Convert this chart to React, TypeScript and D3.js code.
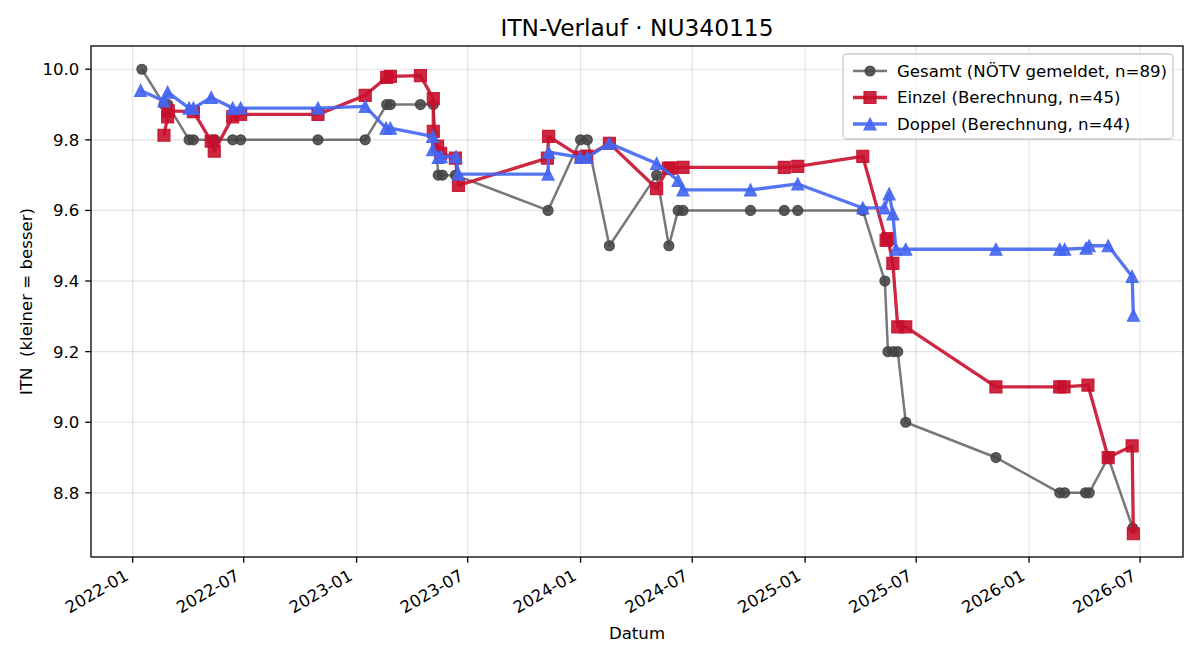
import * as d3 from "d3";
import { useEffect, useRef } from "react";

// Gesamt-ITN laut NÖTV-Meldung
const gesamtDates = [
  "2022-01-16", "2022-02-21", "2022-02-27", "2022-04-03", "2022-04-10", "2022-05-10",
  "2022-05-15", "2022-06-13", "2022-06-26", "2022-10-30", "2023-01-15", "2023-02-19",
  "2023-02-25", "2023-04-15", "2023-05-06", "2023-05-14", "2023-05-21", "2023-06-11",
  "2023-11-09", "2024-01-01", "2024-01-12", "2024-02-17", "2024-05-04", "2024-05-24",
  "2024-06-08", "2024-06-16", "2024-10-04", "2024-11-28", "2024-12-20", "2025-04-05",
  "2025-05-11", "2025-05-16", "2025-05-25", "2025-06-01", "2025-06-14", "2025-11-08",
  "2026-02-20", "2026-02-28", "2026-04-03", "2026-04-09", "2026-05-10", "2026-06-19",
];
const gesamtValues = [
  10.0, 9.9, 9.9, 9.8, 9.8, 9.8,
  9.8, 9.8, 9.8, 9.8, 9.8, 9.9,
  9.9, 9.9, 9.9, 9.7, 9.7, 9.7,
  9.6, 9.8, 9.8, 9.5, 9.7, 9.5,
  9.6, 9.6, 9.6, 9.6, 9.6, 9.6,
  9.4, 9.2, 9.2, 9.2, 9.0, 8.9,
  8.8, 8.8, 8.8, 8.8, 8.9, 8.7,
];

// Einzel (berechnet)
const einzelDates = [
  "2022-02-21", "2022-02-27", "2022-02-28", "2022-04-10", "2022-05-09", "2022-05-14",
  "2022-06-13", "2022-06-26", "2022-10-30", "2023-01-15", "2023-02-19", "2023-02-25",
  "2023-04-15", "2023-05-06", "2023-05-06", "2023-05-13", "2023-05-18", "2023-06-11",
  "2023-06-16", "2023-11-08", "2023-11-10", "2024-01-02", "2024-01-11", "2024-02-17",
  "2024-05-04", "2024-05-23", "2024-05-27", "2024-06-16", "2024-11-28", "2024-12-20",
  "2025-04-05", "2025-05-13", "2025-05-16", "2025-05-24", "2025-06-01", "2025-06-14",
  "2025-11-08", "2026-02-20", "2026-02-27", "2026-04-07", "2026-05-10", "2026-06-18",
  "2026-06-20",
];
const einzelValues = [
  9.813, 9.865, 9.882, 9.88, 9.796, 9.768,
  9.865, 9.872, 9.872, 9.926, 9.977, 9.98,
  9.982, 9.917, 9.824, 9.782, 9.762, 9.748,
  9.671, 9.748, 9.81, 9.751, 9.754, 9.79,
  9.662, 9.72, 9.72, 9.722, 9.722, 9.725,
  9.753, 9.515, 9.52, 9.45, 9.27, 9.27,
  9.1, 9.1, 9.1, 9.105, 8.9, 8.933,
  8.684,
];

// Doppel (berechnet)
const doppelDates = [
  "2022-01-14", "2022-02-21", "2022-02-27", "2022-04-03", "2022-04-10", "2022-05-09",
  "2022-06-13", "2022-06-26", "2022-10-30", "2023-01-15", "2023-02-18", "2023-02-25",
  "2023-05-05", "2023-05-05", "2023-05-14", "2023-05-19", "2023-06-12", "2023-06-16",
  "2023-11-09", "2023-11-10", "2024-01-01", "2024-01-12", "2024-02-17", "2024-05-04",
  "2024-06-08", "2024-06-16", "2024-10-04", "2024-12-20", "2025-04-05", "2025-05-10",
  "2025-05-18", "2025-05-24", "2025-05-29", "2025-06-14", "2025-11-08", "2026-02-20",
  "2026-02-28", "2026-04-04", "2026-04-09", "2026-05-10", "2026-06-18", "2026-06-20",
];
const doppelValues = [
  9.94, 9.91, 9.935, 9.89, 9.89, 9.92,
  9.89, 9.89, 9.89, 9.895, 9.833, 9.833,
  9.81, 9.772, 9.75, 9.752, 9.752, 9.703,
  9.703, 9.765, 9.75, 9.75, 9.79, 9.733,
  9.685, 9.658, 9.658, 9.675, 9.607, 9.607,
  9.647, 9.59, 9.49, 9.49, 9.49, 9.49,
  9.49, 9.493, 9.5, 9.5, 9.413, 9.303,
];

const yTicks = [8.8, 9.0, 9.2, 9.4, 9.6, 9.8, 10.0];
const xTicks = [
  "2022-01", "2022-07", "2023-01", "2023-07", "2024-01",
  "2024-07", "2025-01", "2025-07", "2026-01", "2026-07",
];
const legendLabels = [
  "Gesamt (NÖTV gemeldet, n=89)",
  "Einzel (Berechnung, n=45)",
  "Doppel (Berechnung, n=44)",
];

const parseDate = d3.timeParse("%Y-%m-%d");
const parseMonth = d3.timeParse("%Y-%m");

const WIDTH = 1200;
const HEIGHT = 660;
const FONT = "'DejaVu Sans', sans-serif";

const ChartDraw = () => {
  const chartRef = useRef(null);

  useEffect(() => {
    const svg = d3.select(chartRef.current);
    svg.selectAll("*").remove();

    const margin = { top: 46, right: 17, bottom: 103, left: 91 };
    const boundsWidth = WIDTH - margin.left - margin.right;
    const boundsHeight = HEIGHT - margin.top - margin.bottom;

    const series = [
      {
        key: "gesamt",
        dates: gesamtDates,
        values: gesamtValues,
        color: "#444444",
        lineOpacity: 0.72,
        markerOpacity: 0.88,
        lineWidth: 2.5,
        marker: "circle",
        size: 10,
      },
      {
        key: "einzel",
        dates: einzelDates,
        values: einzelValues,
        color: "#c8102e",
        lineOpacity: 0.9,
        markerOpacity: 0.9,
        lineWidth: 3.3,
        marker: "square",
        size: 12,
      },
      {
        key: "doppel",
        dates: doppelDates,
        values: doppelValues,
        color: "#4466f2",
        lineOpacity: 0.9,
        markerOpacity: 0.9,
        lineWidth: 3.3,
        marker: "triangle",
        size: 12,
      },
    ].map((s) => ({
      ...s,
      points: s.dates.map((d, i) => ({ date: parseDate(d), value: s.values[i] })),
    }));

    const allPoints = series.flatMap((s) => s.points);
    const [minDate, maxDate] = d3.extent(allPoints, (d) => d.date.getTime());
    const [minValue, maxValue] = d3.extent(allPoints, (d) => d.value);
    const padX = (maxDate - minDate) * 0.05;
    const padY = (maxValue - minValue) * 0.05;

    const scaleX = d3
      .scaleTime()
      .domain([new Date(minDate - padX), new Date(maxDate + padX)])
      .range([0, boundsWidth]);

    const scaleY = d3
      .scaleLinear()
      .domain([minValue - padY, maxValue + padY])
      .range([boundsHeight, 0]);

    const bounds = svg
      .append("g")
      .attr("transform", `translate(${margin.left}, ${margin.top})`);

    // Gitter
    const grid = bounds.append("g");
    xTicks.forEach((t) => {
      const x = scaleX(parseMonth(t));
      grid
        .append("line")
        .attr("x1", x).attr("x2", x)
        .attr("y1", 0).attr("y2", boundsHeight)
        .attr("stroke", "#b0b0b0")
        .attr("stroke-opacity", 0.35)
        .attr("stroke-width", 1.2);
    });
    yTicks.forEach((t) => {
      const y = scaleY(t);
      grid
        .append("line")
        .attr("x1", 0).attr("x2", boundsWidth)
        .attr("y1", y).attr("y2", y)
        .attr("stroke", "#b0b0b0")
        .attr("stroke-opacity", 0.35)
        .attr("stroke-width", 1.2);
    });

    const markerPath = (type, size) => {
      const h = size / 2;
      if (type === "square") return `M${-h},${-h}H${h}V${h}H${-h}Z`;
      if (type === "triangle") return `M0,${-h}L${h},${h}L${-h},${h}Z`;
      return d3.symbol(d3.symbolCircle, Math.PI * h * h)();
    };

    const line = d3
      .line()
      .x((d) => scaleX(d.date))
      .y((d) => scaleY(d.value));

    series.forEach((s) => {
      const g = bounds.append("g").attr("class", s.key);
      g.append("path")
        .datum(s.points)
        .attr("d", line)
        .attr("fill", "none")
        .attr("stroke", s.color)
        .attr("stroke-opacity", s.lineOpacity)
        .attr("stroke-width", s.lineWidth)
        .attr("stroke-linejoin", "round");

      g.selectAll("path.marker")
        .data(s.points)
        .enter()
        .append("path")
        .attr("class", "marker")
        .attr("d", markerPath(s.marker, s.size))
        .attr("transform", (d) => `translate(${scaleX(d.date)}, ${scaleY(d.value)})`)
        .attr("fill", s.color)
        .attr("fill-opacity", s.markerOpacity)
        .attr("stroke", s.color)
        .attr("stroke-opacity", s.markerOpacity)
        .attr("stroke-width", 1.2);
    });

    // Rahmen
    bounds
      .append("rect")
      .attr("width", boundsWidth)
      .attr("height", boundsHeight)
      .attr("fill", "none")
      .attr("stroke", "#000")
      .attr("stroke-width", 1.3);

    // y-Achse
    const yAxis = bounds.append("g");
    yTicks.forEach((t) => {
      const y = scaleY(t);
      yAxis.append("line")
        .attr("x1", -5.8).attr("x2", 0)
        .attr("y1", y).attr("y2", y)
        .attr("stroke", "#000").attr("stroke-width", 1.3);
      yAxis.append("text")
        .attr("x", -11.6)
        .attr("y", y)
        .attr("dy", "0.36em")
        .attr("text-anchor", "end")
        .style("font-family", FONT)
        .style("font-size", "16.6px")
        .text(d3.format(".1f")(t));
    });

    // x-Achse
    const xAxis = bounds.append("g").attr("transform", `translate(0, ${boundsHeight})`);
    xTicks.forEach((t) => {
      const x = scaleX(parseMonth(t));
      xAxis.append("line")
        .attr("x1", x).attr("x2", x)
        .attr("y1", 0).attr("y2", 5.8)
        .attr("stroke", "#000").attr("stroke-width", 1.3);
      xAxis.append("text")
        .attr("transform", `translate(${x - 3}, 22) rotate(-30)`)
        .attr("text-anchor", "end")
        .style("font-family", FONT)
        .style("font-size", "16.6px")
        .text(t);
    });

    // Beschriftungen
    svg.append("text")
      .attr("x", margin.left + boundsWidth / 2)
      .attr("y", 36)
      .attr("text-anchor", "middle")
      .style("font-family", FONT)
      .style("font-size", "23.3px")
      .text("ITN-Verlauf · NU340115");

    svg.append("text")
      .attr("x", margin.left + boundsWidth / 2)
      .attr("y", 639)
      .attr("text-anchor", "middle")
      .style("font-family", FONT)
      .style("font-size", "16.6px")
      .text("Datum");

    svg.append("text")
      .attr("transform", `translate(32, ${margin.top + boundsHeight / 2}) rotate(-90)`)
      .attr("text-anchor", "middle")
      .style("font-family", FONT)
      .style("font-size", "16.6px")
      .style("white-space", "pre")
      .text("ITN  (kleiner = besser)");

    // Legende
    const legend = svg.append("g").attr("transform", "translate(843, 54)");
    legend.append("rect")
      .attr("width", 330)
      .attr("height", 85)
      .attr("rx", 4)
      .attr("fill", "#fff")
      .attr("fill-opacity", 0.8)
      .attr("stroke", "#cccccc")
      .attr("stroke-width", 1.3);

    series.forEach((s, i) => {
      const y = 17 + i * 26.5;
      legend.append("line")
        .attr("x1", 10).attr("x2", 44)
        .attr("y1", y).attr("y2", y)
        .attr("stroke", s.color)
        .attr("stroke-opacity", s.lineOpacity)
        .attr("stroke-width", s.lineWidth);
      legend.append("path")
        .attr("d", markerPath(s.marker, s.size))
        .attr("transform", `translate(27, ${y})`)
        .attr("fill", s.color)
        .attr("fill-opacity", s.markerOpacity)
        .attr("stroke", s.color)
        .attr("stroke-opacity", s.markerOpacity)
        .attr("stroke-width", 1.2);
      legend.append("text")
        .attr("x", 54)
        .attr("y", y)
        .attr("dy", "0.36em")
        .style("font-family", FONT)
        .style("font-size", "16.6px")
        .text(legendLabels[i]);
    });
  }, []);

  return (
    <svg
      ref={chartRef}
      width={WIDTH}
      height={HEIGHT}
      style={{ position: "absolute", left: 0, top: 0, background: "#fff" }}
    ></svg>
  );
};

export default function App() {
  return <ChartDraw />;
}
